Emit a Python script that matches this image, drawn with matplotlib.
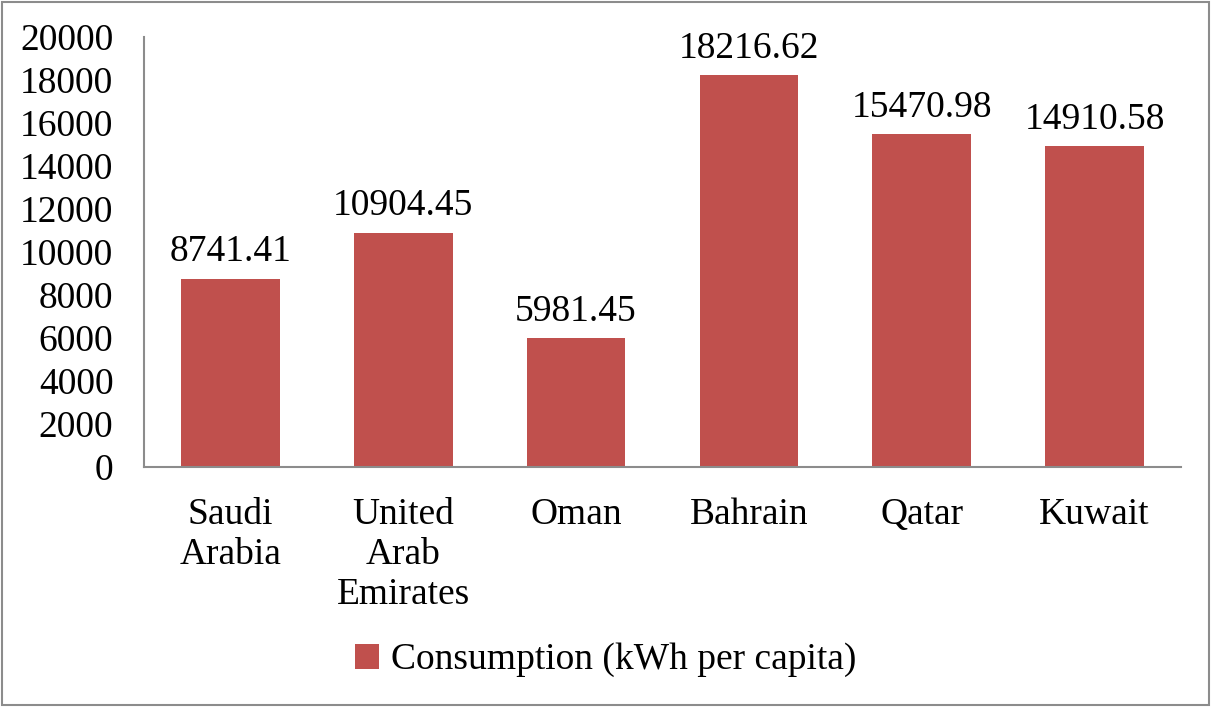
import matplotlib.pyplot as plt
from matplotlib.patches import Rectangle

# ========== Data ==========
countries = ["Saudi\nArabia", "United\nArab\nEmirates", "Oman", "Bahrain", "Qatar", "Kuwait"]
consumption = [8741.41, 10904.45, 5981.45, 18216.62, 15470.98, 14910.58]
value_labels = ["8741.41", "10904.45", "5981.45", "18216.62", "15470.98", "14910.58"]
yticks = [0, 2000, 4000, 6000, 8000, 10000, 12000, 14000, 16000, 18000, 20000]

BAR_COLOR = "#C0504D"
FS = 27
plt.rcParams["font.family"] = ["Liberation Serif", "DejaVu Serif"]

fig = plt.figure(figsize=(12.11, 7.07), dpi=100)
ax = fig.add_axes([144 / 1211, 1 - 467 / 707, (1181 - 144) / 1211, (467 - 37) / 707])

x = range(len(countries))
bars = ax.bar(x, consumption, width=0.57, color=BAR_COLOR, label="Consumption (kWh per capita)")

for bar, lbl in zip(bars, value_labels):
    ax.text(bar.get_x() + bar.get_width() / 2, bar.get_height() + 450, lbl,
            ha="center", va="bottom", fontsize=FS)

ax.set_xlim(-0.5, len(countries) - 0.5)
ax.set_ylim(0, 20000)
ax.set_yticks(yticks)
ax.set_yticklabels([str(v) for v in yticks], fontsize=FS)
ax.set_xticks(list(x))
ax.set_xticklabels(countries, fontsize=FS, linespacing=1.2)
ax.tick_params(axis="both", length=0)
ax.tick_params(axis="x", pad=22)
ax.tick_params(axis="y", pad=22)

for side in ["top", "right"]:
    ax.spines[side].set_visible(False)
for side in ["left", "bottom"]:
    ax.spines[side].set_color("#8c8c8c")
    ax.spines[side].set_linewidth(1.5)

ax.legend(loc="center", bbox_to_anchor=(0.5, 1 - 660 / 707), bbox_transform=fig.transFigure,
          frameon=False, fontsize=FS, handlelength=0.65, handleheight=0.65, handletextpad=0.3)

# outer border of the chart area
fig.patches.append(Rectangle((2 / 1211, 2 / 707), 1 - 4 / 1211, 1 - 4 / 707,
                             transform=fig.transFigure, fill=False,
                             edgecolor="#8c8c8c", linewidth=1.5))

fig.savefig("out.png", dpi=100)
